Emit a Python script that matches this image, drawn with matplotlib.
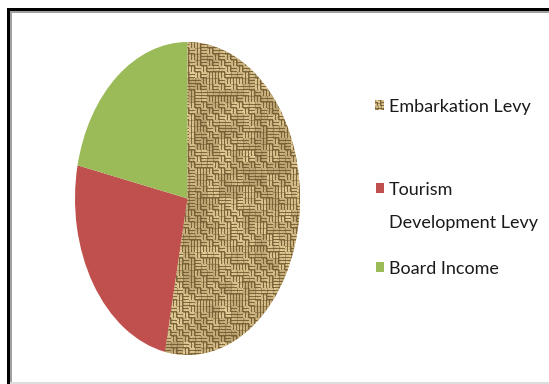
import numpy as np
import matplotlib
matplotlib.use("Agg")
import matplotlib.pyplot as plt
from matplotlib.patches import Rectangle

# revenue shares (%)
labels = ["Embarkation Levy", "Tourism\nDevelopment Levy", "Board Income"]
shares = [53.2, 25.2, 21.6]
colors = ["#c9aa72", "#c0504d", "#9bbb59"]

W, H = 549, 384
FONT = ["Lato", "DejaVu Sans"]


def fx(x):
    return x / W


def fy(y):
    return 1 - y / H


def burlap(h, w, cell=6, seed=7):
    # woven sack-cloth look: blocks of horizontal / vertical strands
    rng = np.random.default_rng(seed)
    yy, xx = np.mgrid[0:h, 0:w]
    nb = ((np.arange(h // cell + 2)[:, None] + np.arange(w // cell + 2)) % 2 == 0)
    nb ^= rng.random(nb.shape) < 0.25
    horiz = nb[yy // cell, xx // cell]
    gap = np.where(horiz, (yy % cell) % 3 == 2, (xx % cell) % 3 == 2)
    edge = np.where(horiz, (xx % cell) == 0, (yy % cell) == 0)
    shade = np.where(gap, 0.2, 1.0) * np.where(edge, 0.6, 1.0)
    # slow variation in tone across the cloth
    lo = rng.random((h // 12 + 2, w // 12 + 2))
    shade = shade * (0.7 + 0.3 * lo[yy // 12, xx // 12])
    shade = shade * (0.75 + 0.25 * rng.random((h, w)))
    light = np.array([238, 214, 160]) / 255
    dark = np.array([105, 82, 40]) / 255
    img = dark + (light - dark) * shade[..., None]
    return np.clip(img, 0, 1)


fig = plt.figure(figsize=(W / 100, H / 100), dpi=100)
fig.patch.set_facecolor("white")

# pie drawn as a stretched ellipse
px0, px1, py0, py1 = 75, 300, 42, 355
ax = fig.add_axes([fx(px0), fy(py1), (px1 - px0) / W, (py1 - py0) / H])
wedges, _ = ax.pie(shares, colors=colors, startangle=90, counterclock=False,
                   radius=1, wedgeprops=dict(linewidth=0))
ax.set_aspect("auto")
ax.axis("off")

tex = burlap(py1 - py0, px1 - px0)
im = ax.imshow(tex, extent=(-1, 1, -1, 1), aspect="auto",
               interpolation="bilinear", zorder=3)
im.set_clip_path(wedges[0])
ax.set_xlim(-1, 1)
ax.set_ylim(-1, 1)

# pick a font size so the first label spans about 143 px
renderer = fig.canvas.get_renderer()
probe = fig.text(0, 0, labels[0], fontsize=14, family=FONT)
fs = 14 * 143 / probe.get_window_extent(renderer).width
probe.remove()

# legend entries
rows = [(105, 112), (188, 195), (267, 274)]
for i, (label, color) in enumerate(zip(labels, colors)):
    cy, base = rows[i]
    if i == 0:
        fig.figimage(burlap(10, 9, cell=3, seed=2), xo=375, yo=H - cy - 5,
                     zorder=5)
    else:
        fig.add_artist(Rectangle((fx(376), fy(cy + 5)), 8 / W, 10 / H,
                                 transform=fig.transFigure, color=color,
                                 lw=0))
    for k, line in enumerate(label.split("\n")):
        fig.text(fx(389), fy(base + 33 * k), line, fontsize=fs,
                 family=FONT, color="#1a1a1a", va="baseline", ha="left")

# black frame on top / left with a grey inner edge
frame = [
    (7, 8, W, 11, "black"),
    (7, 8, 10, H, "black"),
    (10, 11, W, 13, "#a0a0a0"),
    (10, 11, 12, H, "#a0a0a0"),
    (10, 382, W, 384, "#dddddd"),
]
for x0, y0, x1, y1, c in frame:
    fig.add_artist(Rectangle((fx(x0), fy(y1)), (x1 - x0) / W, (y1 - y0) / H,
                             transform=fig.transFigure, color=c, lw=0))

fig.savefig("out.png", dpi=100)
